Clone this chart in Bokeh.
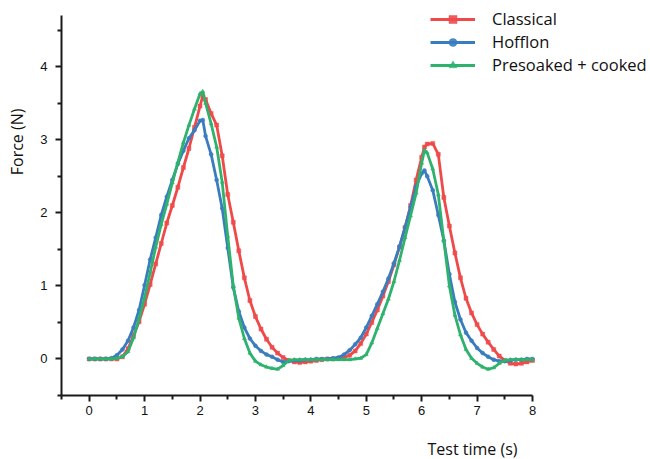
from bokeh.plotting import figure
from bokeh.models import FixedTicker, Range1d, Legend, LegendItem, Title
from bokeh.embed import file_html
from bokeh.resources import INLINE

# ---- data ----
time_s = [0.0, 0.1, 0.2, 0.3, 0.4, 0.5, 0.6, 0.7, 0.8, 0.9,
          1.0, 1.1, 1.2, 1.3, 1.4, 1.5, 1.6, 1.7, 1.8, 1.9,
          2.0, 2.05, 2.1, 2.2, 2.3, 2.4, 2.5, 2.6, 2.7, 2.8, 2.9,
          3.0, 3.1, 3.2, 3.3, 3.4, 3.5, 3.6, 3.7, 3.8, 3.9,
          4.0, 4.1, 4.2, 4.3, 4.4, 4.5, 4.6, 4.7, 4.8, 4.9,
          5.0, 5.1, 5.2, 5.3, 5.4, 5.5, 5.6, 5.7, 5.8, 5.9,
          6.0, 6.05, 6.1, 6.2, 6.3, 6.4, 6.5, 6.6, 6.7, 6.8, 6.9,
          7.0, 7.1, 7.2, 7.3, 7.4, 7.5, 7.6, 7.7, 7.8, 7.9, 8.0]

classical = [0.00, 0.00, 0.00, 0.00, 0.00, 0.00, 0.03, 0.14, 0.32, 0.51,
             0.75, 1.02, 1.30, 1.58, 1.86, 2.10, 2.35, 2.62, 2.88, 3.17,
             3.46, 3.60, 3.55, 3.36, 3.20, 2.78, 2.25, 1.87, 1.48, 1.11, 0.80,
             0.58, 0.41, 0.27, 0.16, 0.08, 0.02, -0.02, -0.04, -0.05, -0.04,
             -0.03, -0.02, -0.01, 0.00, 0.00, 0.01, 0.02, 0.05, 0.11, 0.21,
             0.34, 0.50, 0.67, 0.86, 1.06, 1.29, 1.53, 1.80, 2.10, 2.45,
             2.76, 2.90, 2.94, 2.95, 2.80, 2.21, 1.82, 1.45, 1.11, 0.83, 0.63,
             0.47, 0.34, 0.23, 0.13, 0.04, -0.02, -0.06, -0.07, -0.06, -0.04, -0.02]

hofflon = [0.00, 0.00, 0.00, 0.00, 0.01, 0.05, 0.13, 0.25, 0.43, 0.67,
           1.01, 1.36, 1.66, 1.97, 2.22, 2.45, 2.67, 2.85, 3.02, 3.13,
           3.26, 3.27, 3.05, 2.80, 2.45, 2.06, 1.52, 0.98, 0.65, 0.43, 0.28,
           0.18, 0.11, 0.06, 0.03, -0.01, -0.04, -0.03, -0.02, -0.02, -0.01,
           -0.01, 0.00, 0.00, 0.00, 0.01, 0.02, 0.06, 0.12, 0.20, 0.29,
           0.43, 0.59, 0.75, 0.92, 1.10, 1.31, 1.54, 1.80, 2.08, 2.36,
           2.54, 2.58, 2.50, 2.31, 1.97, 1.62, 1.16, 0.78, 0.54, 0.36, 0.25,
           0.15, 0.08, 0.03, -0.01, -0.03, -0.03, -0.02, -0.01, -0.01, 0.00, 0.00]

presoaked = [0.00, 0.00, 0.00, 0.00, 0.00, 0.01, 0.03, 0.10, 0.29, 0.55,
             0.84, 1.18, 1.53, 1.84, 2.12, 2.41, 2.69, 2.96, 3.20, 3.42,
             3.63, 3.66, 3.50, 3.22, 2.90, 2.42, 1.68, 1.00, 0.56, 0.28, 0.08,
             -0.03, -0.08, -0.11, -0.13, -0.14, -0.09, -0.02, -0.01, -0.01, -0.01,
             -0.01, -0.01, -0.01, -0.01, -0.01, -0.01, -0.01, -0.01, 0.00, 0.01,
             0.06, 0.22, 0.42, 0.62, 0.82, 1.06, 1.35, 1.66, 1.96, 2.27,
             2.68, 2.86, 2.82, 2.60, 2.25, 1.62, 1.00, 0.60, 0.33, 0.13, 0.01,
             -0.06, -0.11, -0.14, -0.12, -0.06, -0.02, -0.01, -0.01, -0.01, -0.01, -0.01]

series_names = ["Classical", "Hofflon", "Presoaked + cooked"]
x_ticks = [0, 1, 2, 3, 4, 5, 6, 7, 8]
y_ticks = [0, 1, 2, 3, 4]

# ---- styling ----
colors = ["#EF4A4A", "#3A7DBE", "#2FB26E"]
markers = ["square", "circle", "triangle"]

W, H = 650, 459
FRAME_L, FRAME_B = 61, 395
AX_TOP_PX = 15                       # where the y axis line ends (value 4.7)
x_end = -0.5 + (W - FRAME_L) * 8.5 / (532 - FRAME_L)
y_end = 4.7 + AX_TOP_PX * 5.2 / (FRAME_B - AX_TOP_PX)

p = figure(width=W, height=H, output_backend="svg", toolbar_location=None,
           x_range=Range1d(-0.5, x_end), y_range=Range1d(-0.5, y_end),
           min_border_left=FRAME_L, min_border_right=0, min_border_top=0,
           min_border_bottom=H - FRAME_B)
p.outline_line_color = None
p.grid.visible = False
p.background_fill_color = "white"

items = []
for name, ys, c, m in zip(series_names, [classical, hofflon, presoaked], colors, markers):
    ln = p.line(time_s, ys, line_color=c, line_width=2.8)
    sc = p.scatter(time_s, ys, marker=m, size=4, fill_color=c, line_color=c,
                   line_alpha=0.45, fill_alpha=0.9)
    items.append(LegendItem(label=name, renderers=[ln, sc]))

legend = Legend(items=items, location=(369, 319), orientation="vertical",
                border_line_color=None, background_fill_alpha=0,
                padding=0, margin=0, spacing=0, glyph_width=45, glyph_height=20,
                label_standoff=17, label_text_font="Open Sans",
                label_text_font_size="16.5px", label_text_color="#111111")
p.add_layout(legend, "center")

for ax in (p.xaxis[0], p.yaxis[0]):
    ax.axis_line_width = 2
    ax.axis_line_color = "#1a1a1a"
    ax.major_tick_line_width = 2
    ax.minor_tick_line_width = 2
    ax.major_tick_line_color = "#1a1a1a"
    ax.minor_tick_line_color = "#1a1a1a"
    ax.major_tick_out = 6
    ax.major_tick_in = 0
    ax.minor_tick_out = 4
    ax.minor_tick_in = 0
    ax.major_label_text_font = "Liberation Sans"
    ax.major_label_text_font_size = "13px"
    ax.major_label_text_color = "#111111"
    # blank spacer label, used only to push the side titles outward
    ax.axis_label = "\u00a0"
    ax.axis_label_text_font_size = "1px"

p.xaxis[0].axis_label_standoff = 14
p.yaxis[0].axis_label_standoff = 6

p.xaxis[0].bounds = (-0.5, 8)
p.yaxis[0].bounds = (-0.5, 4.7)
p.xaxis[0].ticker = FixedTicker(ticks=x_ticks,
                                minor_ticks=[v + 0.5 for v in [-1] + x_ticks[:-1]])
p.yaxis[0].ticker = FixedTicker(ticks=y_ticks,
                                minor_ticks=[v + 0.5 for v in [-1] + y_ticks])
p.xaxis[0].major_label_standoff = 4
p.yaxis[0].major_label_standoff = 8

xt = Title(text="Test time (s)", align="left", offset=366,
           text_font="Open Sans", text_font_size="16px", text_font_style="normal",
           text_color="#111111", standoff=0)
p.add_layout(xt, "below")
yt = Title(text="Force (N)", align="right", offset=108,
           text_font="Open Sans", text_font_size="16px", text_font_style="normal",
           text_color="#111111", standoff=0)
p.add_layout(yt, "left")

open("out.html", "w").write(file_html(p, INLINE))
